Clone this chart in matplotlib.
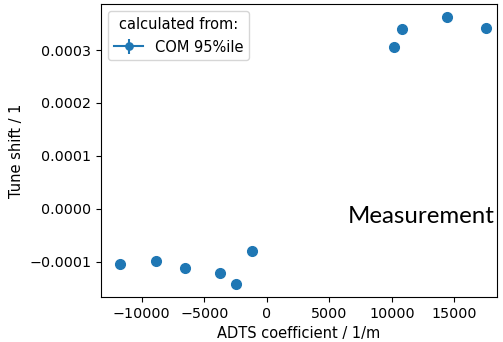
import numpy as np
import matplotlib
matplotlib.use("Agg")
import matplotlib.pyplot as plt

# ADTS coefficient (1/m) and measured tune shift
adts = [-11760, -8880, -6560, -3760, -2480, -1200, 10160, 10800, 14400, 17520]
tune_shift = [-1.038e-4, -0.981e-4, -1.113e-4, -1.208e-4, -1.415e-4, -0.792e-4,
              3.057e-4, 3.396e-4, 3.62e-4, 3.415e-4]
tune_err = [0] * len(adts)

plt.rcParams["font.size"] = 10.5
plt.rcParams["xtick.labelsize"] = 10.3
plt.rcParams["ytick.labelsize"] = 10.3

fig, ax = plt.subplots(figsize=(5.03, 3.42), dpi=100)
fig.subplots_adjust(left=0.201, right=0.988, top=0.988, bottom=0.132)

# one errorbar call per measurement, only the first gets a legend entry
for i, (x, y, e) in enumerate(zip(adts, tune_shift, tune_err)):
    ax.errorbar([x], [y], yerr=[e], fmt="o-", ms=7, color="#1f77b4",
                label="COM 95%ile" if i == 0 else None)
ax.set_xlim(-13250, 18400)
ax.set_ylim(-1.667e-4, 3.87e-4)
ax.set_xlabel("ADTS coefficient / 1/m")
ax.set_ylabel("Tune shift / 1")
ax.legend(title="calculated from:", loc="upper left", markerscale=0.75)
ax.text(0.995, 0.273, "Measurement", transform=ax.transAxes, ha="right",
        va="center", fontsize=17.3, family="Lato")

fig.savefig("out.png", dpi=100)
